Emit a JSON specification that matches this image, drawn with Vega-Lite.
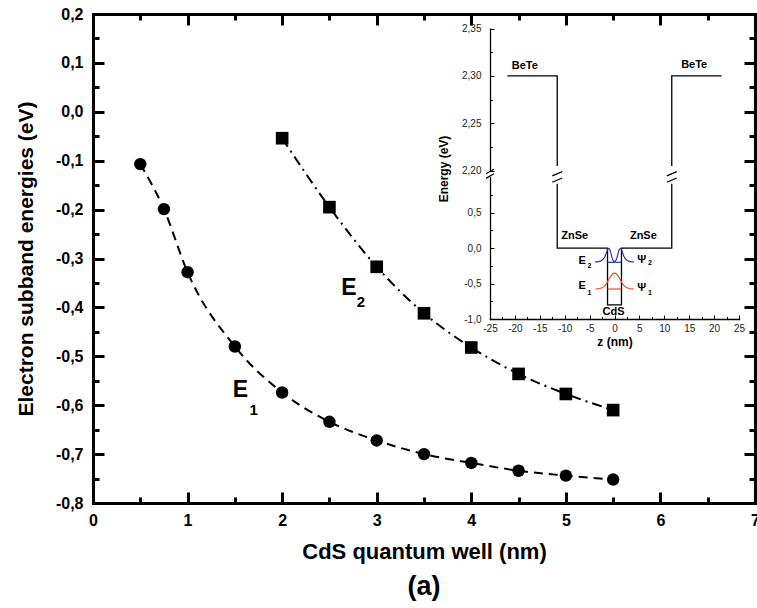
{
  "$schema": "https://vega.github.io/schema/vega-lite/v6.json",
  "width": 662,
  "height": 489,
  "autosize": {"type": "none"},
  "padding": {"left": 93, "top": 14, "right": 2, "bottom": 105},
  "background": "white",
  "config": {
    "font": "Liberation Sans",
    "view": {"stroke": null},
    "axis": {"grid": false, "domainColor": "black", "tickColor": "black", "labelColor": "black", "titleColor": "black", "labelFlush": false, "labelOverlap": false, "labelBound": false, "domainCap": "square"}
  },
  "title": {"text": "(a)", "orient": "bottom", "fontSize": 27, "fontWeight": "bold", "font": "Liberation Sans", "offset": 12, "color": "black"},
  "datasets": {
    "e1": [
      {"size": 0.5, "energy": -0.107}, {"size": 0.75, "energy": -0.199}, {"size": 1.0, "energy": -0.328},
      {"size": 1.5, "energy": -0.480}, {"size": 2.0, "energy": -0.574}, {"size": 2.5, "energy": -0.634},
      {"size": 3.0, "energy": -0.672}, {"size": 3.5, "energy": -0.700}, {"size": 4.0, "energy": -0.718},
      {"size": 4.5, "energy": -0.734}, {"size": 5.0, "energy": -0.744}, {"size": 5.5, "energy": -0.752}
    ],
    "e2": [
      {"size": 2.0, "energy": -0.054}, {"size": 2.5, "energy": -0.195}, {"size": 3.0, "energy": -0.317},
      {"size": 3.5, "energy": -0.412}, {"size": 4.0, "energy": -0.482}, {"size": 4.5, "energy": -0.536},
      {"size": 5.0, "energy": -0.577}, {"size": 5.5, "energy": -0.610}
    ],
    "mainLabels": [
      {"t": "E", "size": 1.56, "energy": -0.569},
      {"t": "E", "size": 2.707, "energy": -0.361}
    ],
    "mainSubs": [
      {"t": "1", "size": 1.70, "energy": -0.61},
      {"t": "2", "size": 2.834, "energy": -0.389}
    ],
    "insetTop": [
      {"side": "L", "ord": 1, "z": -21.5, "e": 2.30}, {"side": "L", "ord": 2, "z": -11.5, "e": 2.30}, {"side": "L", "ord": 3, "z": -11.5, "e": 2.205},
      {"side": "R", "ord": 1, "z": 11.5, "e": 2.205}, {"side": "R", "ord": 2, "z": 11.5, "e": 2.30}, {"side": "R", "ord": 3, "z": 21.5, "e": 2.30}
    ],
    "insetTopLabels": [
      {"t": "BeTe", "z": -18.0, "e": 2.3105},
      {"t": "BeTe", "z": 16.0, "e": 2.312}
    ],
    "insetBottom": [
      {"ord": 1, "z": -11.5, "e": 0.91}, {"ord": 2, "z": -11.5, "e": 0.0}, {"ord": 3, "z": -1.4, "e": 0.0},
      {"ord": 4, "z": -1.4, "e": -0.8}, {"ord": 5, "z": 1.4, "e": -0.8}, {"ord": 6, "z": 1.4, "e": 0.0},
      {"ord": 7, "z": 11.5, "e": 0.0}, {"ord": 8, "z": 11.5, "e": 0.91}
    ],
    "psi": [
      {"state": "psi2", "z": -3.9, "e": -0.195}, {"state": "psi2", "z": -3.2, "e": -0.19}, {"state": "psi2", "z": -2.6, "e": -0.175},
      {"state": "psi2", "z": -2.1, "e": -0.14}, {"state": "psi2", "z": -1.8, "e": -0.10}, {"state": "psi2", "z": -1.5, "e": -0.04},
      {"state": "psi2", "z": -1.2, "e": -0.003}, {"state": "psi2", "z": -0.95, "e": -0.02}, {"state": "psi2", "z": -0.7, "e": -0.08},
      {"state": "psi2", "z": -0.45, "e": -0.145}, {"state": "psi2", "z": -0.2, "e": -0.182}, {"state": "psi2", "z": 0.0, "e": -0.188},
      {"state": "psi2", "z": 0.2, "e": -0.182}, {"state": "psi2", "z": 0.45, "e": -0.145}, {"state": "psi2", "z": 0.7, "e": -0.08},
      {"state": "psi2", "z": 0.95, "e": -0.02}, {"state": "psi2", "z": 1.2, "e": -0.003}, {"state": "psi2", "z": 1.5, "e": -0.04},
      {"state": "psi2", "z": 1.8, "e": -0.10}, {"state": "psi2", "z": 2.1, "e": -0.14}, {"state": "psi2", "z": 2.6, "e": -0.175},
      {"state": "psi2", "z": 3.2, "e": -0.19}, {"state": "psi2", "z": 3.9, "e": -0.195},
      {"state": "psi1", "z": -3.8, "e": -0.577}, {"state": "psi1", "z": -3.0, "e": -0.57}, {"state": "psi1", "z": -2.5, "e": -0.56},
      {"state": "psi1", "z": -2.0, "e": -0.535}, {"state": "psi1", "z": -1.6, "e": -0.50}, {"state": "psi1", "z": -1.2, "e": -0.45},
      {"state": "psi1", "z": -0.8, "e": -0.40}, {"state": "psi1", "z": -0.4, "e": -0.365}, {"state": "psi1", "z": 0.0, "e": -0.352},
      {"state": "psi1", "z": 0.4, "e": -0.365}, {"state": "psi1", "z": 0.8, "e": -0.40}, {"state": "psi1", "z": 1.2, "e": -0.45},
      {"state": "psi1", "z": 1.6, "e": -0.50}, {"state": "psi1", "z": 2.0, "e": -0.535}, {"state": "psi1", "z": 2.5, "e": -0.56},
      {"state": "psi1", "z": 3.0, "e": -0.57}, {"state": "psi1", "z": 3.8, "e": -0.577}
    ],
    "levels": [
      {"state": "psi2", "z1": -1.4, "z2": 1.4, "e": -0.2},
      {"state": "psi1", "z1": -1.4, "z2": 1.4, "e": -0.577}
    ],
    "insetLabels": [
      {"t": "ZnSe", "z": -8.0, "e": 0.177},
      {"t": "ZnSe", "z": 5.8, "e": 0.177},
      {"t": "CdS", "z": -0.2, "e": -0.90},
      {"t": "E", "z": -6.5, "e": -0.175},
      {"t": "E", "z": -6.5, "e": -0.54},
      {"t": "Ψ", "z": 5.45, "e": -0.165},
      {"t": "Ψ", "z": 5.45, "e": -0.563}
    ],
    "insetSubs": [
      {"t": "2", "z": -5.05, "e": -0.25},
      {"t": "1", "z": -5.05, "e": -0.634},
      {"t": "2", "z": 7.1, "e": -0.21},
      {"t": "1", "z": 7.1, "e": -0.64}
    ],
    "breaks": [
      {"z1": -25.8, "z2": -24.2, "e1": 0.985, "e2": 1.05},
      {"z1": -25.8, "z2": -24.2, "e1": 1.05, "e2": 1.115},
      {"z1": -12.5, "z2": -10.5, "e1": 0.93, "e2": 0.99},
      {"z1": -12.5, "z2": -10.5, "e1": 1.02, "e2": 1.08},
      {"z1": 10.5, "z2": 12.5, "e1": 0.93, "e2": 0.99},
      {"z1": 10.5, "z2": 12.5, "e1": 1.02, "e2": 1.08}
    ]
  },
  "layer": [
    {
      "data": {"name": "e1"},
      "mark": {"type": "line", "interpolate": "monotone", "strokeDash": [9, 6], "strokeWidth": 2, "color": "black"},
      "encoding": {
        "x": {"field": "size", "type": "quantitative", "scale": {"domain": [0, 7], "nice": false, "zero": false},
          "axis": {"orient": "bottom", "values": [0, 1, 2, 3, 4, 5, 6, 7], "tickSize": -11, "tickWidth": 3, "domainWidth": 3,
            "labelPadding": 20, "labelFontSize": 16, "labelFontWeight": "bold", "labelExpr": "format(datum.value, 'd')",
            "title": "CdS quantum well (nm)", "titleFontSize": 22, "titleFontWeight": "bold", "titlePadding": 13}},
        "y": {"field": "energy", "type": "quantitative", "scale": {"domain": [-0.8, 0.2], "nice": false, "zero": false},
          "axis": {"orient": "left", "values": [-0.8, -0.7, -0.6, -0.5, -0.4, -0.3, -0.2, -0.1, 0, 0.1, 0.2], "tickSize": -11, "tickWidth": 3, "domainWidth": 3,
            "labelPadding": 21, "labelFontSize": 16, "labelFontWeight": "bold",
            "labelExpr": "(datum.value < -0.001 ? '-' : '') + replace(format(abs(datum.value), '.1f'), '.', ',')",
            "title": "Electron subband energies (eV)", "titleFontSize": 21, "titleFontWeight": "bold", "titlePadding": 19}}
      }
    },
    {
      "data": {"name": "e1"},
      "mark": {"type": "point", "shape": "circle", "filled": true, "size": 155, "color": "black", "opacity": 1},
      "encoding": {
        "x": {"field": "size", "type": "quantitative", "scale": {"domain": [0, 7], "nice": false, "zero": false},
          "axis": {"orient": "bottom", "values": [0.5, 1.5, 2.5, 3.5, 4.5, 5.5, 6.5], "tickSize": -6, "tickWidth": 3, "labels": false, "domain": false, "title": null}},
        "y": {"field": "energy", "type": "quantitative", "scale": {"domain": [-0.8, 0.2], "nice": false, "zero": false},
          "axis": {"orient": "left", "values": [-0.75, -0.65, -0.55, -0.45, -0.35, -0.25, -0.15, -0.05, 0.05, 0.15], "tickSize": -6, "tickWidth": 3, "labels": false, "domain": false, "title": null}}
      }
    },
    {
      "data": {"name": "e2"},
      "mark": {"type": "line", "interpolate": "monotone", "strokeDash": [10, 5, 2, 5], "strokeWidth": 2, "color": "black"},
      "encoding": {
        "x": {"field": "size", "type": "quantitative", "scale": {"domain": [0, 7], "nice": false, "zero": false},
          "axis": {"orient": "top", "values": [0, 1, 2, 3, 4, 5, 6, 7], "tickSize": -11, "tickWidth": 3, "domainWidth": 3, "labels": false, "title": null}},
        "y": {"field": "energy", "type": "quantitative", "scale": {"domain": [-0.8, 0.2], "nice": false, "zero": false},
          "axis": {"orient": "right", "values": [-0.8, -0.7, -0.6, -0.5, -0.4, -0.3, -0.2, -0.1, 0, 0.1, 0.2], "tickSize": -11, "tickWidth": 3, "domainWidth": 3, "labels": false, "title": null}}
      }
    },
    {
      "data": {"name": "e2"},
      "mark": {"type": "point", "shape": "square", "filled": true, "size": 160, "color": "black", "opacity": 1},
      "encoding": {
        "x": {"field": "size", "type": "quantitative", "scale": {"domain": [0, 7], "nice": false, "zero": false},
          "axis": {"orient": "top", "values": [0.5, 1.5, 2.5, 3.5, 4.5, 5.5, 6.5], "tickSize": -6, "tickWidth": 3, "labels": false, "domain": false, "title": null}},
        "y": {"field": "energy", "type": "quantitative", "scale": {"domain": [-0.8, 0.2], "nice": false, "zero": false},
          "axis": {"orient": "right", "values": [-0.75, -0.65, -0.55, -0.45, -0.35, -0.25, -0.15, -0.05, 0.05, 0.15], "tickSize": -6, "tickWidth": 3, "labels": false, "domain": false, "title": null}}
      }
    },
    {
      "data": {"name": "mainLabels"},
      "mark": {"type": "text", "fontSize": 23, "fontWeight": "bold", "align": "center", "baseline": "middle", "color": "black"},
      "encoding": {
        "x": {"field": "size", "type": "quantitative", "scale": {"domain": [0, 7], "nice": false, "zero": false}, "axis": null},
        "y": {"field": "energy", "type": "quantitative", "scale": {"domain": [-0.8, 0.2], "nice": false, "zero": false}, "axis": null},
        "text": {"field": "t"}
      }
    },
    {
      "data": {"name": "mainSubs"},
      "mark": {"type": "text", "fontSize": 15, "fontWeight": "bold", "align": "center", "baseline": "middle", "color": "black"},
      "encoding": {
        "x": {"field": "size", "type": "quantitative", "scale": {"domain": [0, 7], "nice": false, "zero": false}, "axis": null},
        "y": {"field": "energy", "type": "quantitative", "scale": {"domain": [-0.8, 0.2], "nice": false, "zero": false}, "axis": null},
        "text": {"field": "t"}
      }
    },
    {
      "data": {"name": "insetTop"},
      "mark": {"type": "line", "strokeWidth": 1.3, "color": "black"},
      "encoding": {
        "x": {"field": "z", "type": "quantitative", "scale": {"domain": [-25, 25], "range": [397, 646], "nice": false, "zero": false}, "axis": null},
        "y": {"field": "e", "type": "quantitative", "scale": {"domain": [2.2, 2.35], "range": [156.7, 14.6], "nice": false, "zero": false},
          "axis": {"orient": "left", "offset": -397, "values": [2.2, 2.25, 2.3, 2.35], "tickSize": -4, "tickWidth": 1, "domainWidth": 1.3,
            "labelPadding": 13, "labelFontSize": 10, "labelColor": "#222",
            "labelExpr": "replace(format(datum.value, '.2f'), '.', ',')",
            "title": "Energy (eV)", "titleFontSize": 12, "titleFontWeight": "bold", "titleX": -47, "titleY": 154.5, "titleBaseline": "middle"}},
        "detail": {"field": "side"},
        "order": {"field": "ord"}
      }
    },
    {
      "data": {"name": "insetTopLabels"},
      "mark": {"type": "text", "fontSize": 11, "fontWeight": "bold", "align": "center", "baseline": "middle", "color": "black"},
      "encoding": {
        "x": {"field": "z", "type": "quantitative", "scale": {"domain": [-25, 25], "range": [397, 646], "nice": false, "zero": false}, "axis": null},
        "y": {"field": "e", "type": "quantitative", "scale": {"domain": [2.2, 2.35], "range": [156.7, 14.6], "nice": false, "zero": false},
          "axis": {"orient": "left", "offset": -397, "values": [2.225, 2.275, 2.325], "tickSize": -2.5, "tickWidth": 1, "labels": false, "domain": false, "title": null}},
        "text": {"field": "t"}
      }
    },
    {
      "data": {"name": "insetBottom"},
      "mark": {"type": "line", "strokeWidth": 1.3, "color": "black"},
      "encoding": {
        "x": {"field": "z", "type": "quantitative", "scale": {"domain": [-25, 25], "range": [397, 646], "nice": false, "zero": false},
          "axis": {"orient": "bottom", "offset": -184, "values": [-25, -20, -15, -10, -5, 0, 5, 10, 15, 20, 25], "tickSize": -4, "tickWidth": 1, "domainWidth": 1.3,
            "labelPadding": 8, "labelFontSize": 10, "labelColor": "#222",
            "labelExpr": "(datum.value < 0 ? '-' : '') + format(abs(datum.value), 'd')",
            "title": "z (nm)", "titleFontSize": 12, "titleFontWeight": "bold", "titlePadding": 3}},
        "y": {"field": "e", "type": "quantitative", "scale": {"domain": [-1, 1], "range": [305, 163.3], "nice": false, "zero": false},
          "axis": {"orient": "left", "offset": -397, "values": [-1, -0.5, 0, 0.5], "tickSize": -4, "tickWidth": 1, "domainWidth": 1.3,
            "labelPadding": 13, "labelFontSize": 10, "labelColor": "#222",
            "labelExpr": "(datum.value < 0 ? '-' : '') + replace(format(abs(datum.value), '.1f'), '.', ',')",
            "title": null}},
        "order": {"field": "ord"}
      }
    },
    {
      "data": {"name": "psi"},
      "mark": {"type": "line", "interpolate": "monotone", "strokeWidth": 1.2},
      "encoding": {
        "x": {"field": "z", "type": "quantitative", "scale": {"domain": [-25, 25], "range": [397, 646], "nice": false, "zero": false},
          "axis": {"orient": "bottom", "offset": -184, "values": [-22.5, -17.5, -12.5, -7.5, -2.5, 2.5, 7.5, 12.5, 17.5, 22.5], "tickSize": -2.5, "tickWidth": 1, "labels": false, "domain": false, "title": null}},
        "y": {"field": "e", "type": "quantitative", "scale": {"domain": [-1, 1], "range": [305, 163.3], "nice": false, "zero": false},
          "axis": {"orient": "left", "offset": -397, "values": [-0.75, -0.25, 0.25, 0.75], "tickSize": -2.5, "tickWidth": 1, "labels": false, "domain": false, "title": null}},
        "color": {"field": "state", "type": "nominal", "scale": {"domain": ["psi1", "psi2"], "range": ["#f0502a", "#2c3a9c"]}, "legend": null}
      }
    },
    {
      "data": {"name": "levels"},
      "mark": {"type": "rule", "strokeWidth": 1.2},
      "encoding": {
        "x": {"field": "z1", "type": "quantitative", "scale": {"domain": [-25, 25], "range": [397, 646], "nice": false, "zero": false}, "axis": null},
        "x2": {"field": "z2"},
        "y": {"field": "e", "type": "quantitative", "scale": {"domain": [-1, 1], "range": [305, 163.3], "nice": false, "zero": false}, "axis": null},
        "color": {"field": "state", "type": "nominal", "scale": {"domain": ["psi1", "psi2"], "range": ["#f0502a", "#2c3a9c"]}, "legend": null}
      }
    },
    {
      "data": {"name": "insetLabels"},
      "mark": {"type": "text", "fontSize": 11, "fontWeight": "bold", "align": "center", "baseline": "middle", "color": "black"},
      "encoding": {
        "x": {"field": "z", "type": "quantitative", "scale": {"domain": [-25, 25], "range": [397, 646], "nice": false, "zero": false}, "axis": null},
        "y": {"field": "e", "type": "quantitative", "scale": {"domain": [-1, 1], "range": [305, 163.3], "nice": false, "zero": false}, "axis": null},
        "text": {"field": "t"}
      }
    },
    {
      "data": {"name": "insetSubs"},
      "mark": {"type": "text", "fontSize": 7, "fontWeight": "bold", "align": "center", "baseline": "middle", "color": "black"},
      "encoding": {
        "x": {"field": "z", "type": "quantitative", "scale": {"domain": [-25, 25], "range": [397, 646], "nice": false, "zero": false}, "axis": null},
        "y": {"field": "e", "type": "quantitative", "scale": {"domain": [-1, 1], "range": [305, 163.3], "nice": false, "zero": false}, "axis": null},
        "text": {"field": "t"}
      }
    },
    {
      "data": {"name": "breaks"},
      "mark": {"type": "rule", "strokeWidth": 1.2, "color": "black"},
      "encoding": {
        "x": {"field": "z1", "type": "quantitative", "scale": {"domain": [-25, 25], "range": [397, 646], "nice": false, "zero": false}, "axis": null},
        "x2": {"field": "z2"},
        "y": {"field": "e1", "type": "quantitative", "scale": {"domain": [-1, 1], "range": [305, 163.3], "nice": false, "zero": false}, "axis": null},
        "y2": {"field": "e2"}
      }
    }
  ],
  "resolve": {"scale": {"x": "independent", "y": "independent"}, "axis": {"x": "independent", "y": "independent"}}
}
